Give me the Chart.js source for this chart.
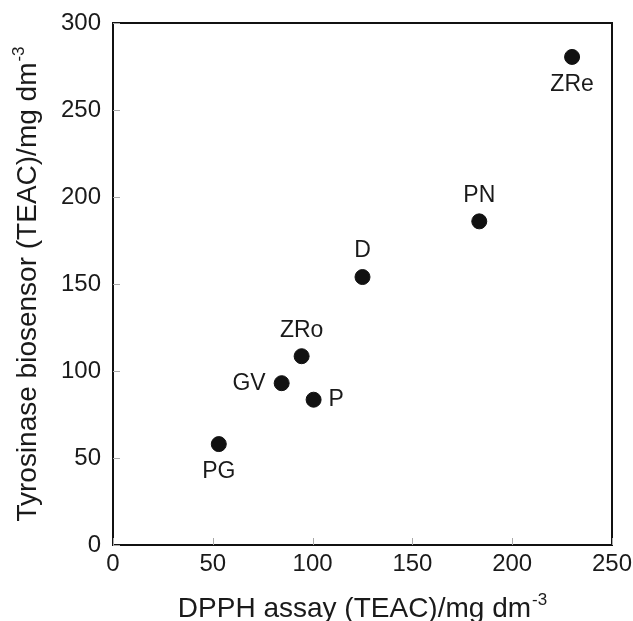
<!DOCTYPE html>
<html>
<head>
<meta charset="utf-8">
<script src="https://cdn.jsdelivr.net/npm/chart.js@4.4.0/dist/chart.umd.min.js"></script>
<style>
html,body{margin:0;padding:0;background:#fff;}
#wrap{width:633px;height:621px;position:relative;}
</style>
</head>
<body>
<div id="wrap"><canvas id="c" width="633" height="621"></canvas></div>
<script>
// ---- data ----
const sampleNames = ['ZRe','PN','D','ZRo','GV','P','PG'];
const dpphValues = [230, 183.5, 125, 94.5, 84.5, 100.5, 53];
const biosensorValues = [280.5, 186, 154, 108.5, 93, 83.5, 58];
const xTickValues = [0, 50, 100, 150, 200, 250];
const yTickValues = [0, 50, 100, 150, 200, 250, 300];
const xTitleMain = 'DPPH assay (TEAC)/mg dm';
const yTitleMain = 'Tyrosinase biosensor (TEAC)/mg dm';
const titleSup = '-3';
// label placement (style only)
const labelSide = ['below','above','above','above','left','right','below'];

const FONT = '"Liberation Sans", Arial, sans-serif';
const TICK_SIZE = 24;
const LABEL_SIZE = 23;
const TITLE_SIZE = 28;

const points = dpphValues.map((x, i) => ({x: x, y: biosensorValues[i]}));

const decorPlugin = {
  id: 'decor',
  afterDraw(chart) {
    const ctx = chart.ctx;
    const a = chart.chartArea;
    const xs = chart.scales.x, ys = chart.scales.y;
    ctx.save();
    // frame
    ctx.strokeStyle = '#111';
    ctx.lineWidth = 2;
    ctx.strokeRect(a.left, a.top, a.right - a.left, a.bottom - a.top);
    // inward ticks
    ctx.strokeStyle = '#aaa';
    ctx.lineWidth = 1;
    ctx.beginPath();
    xTickValues.forEach(v => {
      const px = Math.round(xs.getPixelForValue(v)) + 0.5;
      ctx.moveTo(px, a.bottom); ctx.lineTo(px, a.bottom - 7);
    });
    yTickValues.forEach(v => {
      const py = Math.round(ys.getPixelForValue(v)) + 0.5;
      ctx.moveTo(a.left, py); ctx.lineTo(a.left + 7, py);
    });
    ctx.stroke();
    // point labels
    ctx.fillStyle = '#1a1a1a';
    ctx.font = LABEL_SIZE + 'px ' + FONT;
    const meta = chart.getDatasetMeta(0);
    meta.data.forEach((el, i) => {
      const side = labelSide[i];
      let tx = el.x, ty = el.y;
      ctx.textBaseline = 'middle';
      if (side === 'below') { ctx.textAlign = 'center'; ty += 28; }
      else if (side === 'above') { ctx.textAlign = 'center'; ty -= 26; }
      else if (side === 'left') { ctx.textAlign = 'right'; tx -= 16; }
      else { ctx.textAlign = 'left'; tx += 15; }
      ctx.fillText(sampleNames[i], tx, ty);
    });
    // axis titles with superscript
    function drawTitle(main, cx, baseline, rot) {
      ctx.save();
      ctx.translate(cx, baseline);
      ctx.rotate(rot);
      ctx.font = TITLE_SIZE + 'px ' + FONT;
      const w1 = ctx.measureText(main).width;
      const supSize = Math.round(TITLE_SIZE * 0.6);
      ctx.font = supSize + 'px ' + FONT;
      const w2 = ctx.measureText(titleSup).width;
      const start = -(w1 + w2 + 1) / 2;
      ctx.textAlign = 'left';
      ctx.textBaseline = 'alphabetic';
      ctx.font = TITLE_SIZE + 'px ' + FONT;
      ctx.fillText(main, start, 0);
      ctx.font = supSize + 'px ' + FONT;
      ctx.fillText(titleSup, start + w1 + 1, -TITLE_SIZE * 0.42);
      ctx.restore();
    }
    ctx.fillStyle = '#1a1a1a';
    drawTitle(xTitleMain, (a.left + a.right) / 2, 617, 0);
    ctx.save();
    ctx.translate(36, (a.top + a.bottom) / 2);
    ctx.restore();
    drawTitle(yTitleMain, 36, (a.top + a.bottom) / 2, -Math.PI / 2);
    ctx.restore();
  }
};

new Chart(document.getElementById('c'), {
  type: 'scatter',
  data: {
    datasets: [{
      data: points,
      backgroundColor: '#111',
      borderColor: '#111',
      pointRadius: 7.5,
      pointHoverRadius: 7.5
    }]
  },
  options: {
    responsive: false,
    animation: false,
    events: [],
    layout: { padding: { top: 23, right: 21, left: 0, bottom: 0 } },
    plugins: { legend: { display: false }, tooltip: { enabled: false } },
    scales: {
      x: {
        type: 'linear', min: 0, max: 250,
        afterFit(s) { s.height = 76; s.paddingRight = 0; s.paddingLeft = 0; },
        afterBuildTicks(s) { s.ticks = xTickValues.map(v => ({value: v})); },
        grid: { display: false, drawTicks: false },
        border: { display: false },
        ticks: { color: '#1a1a1a', font: { family: FONT, size: TICK_SIZE }, padding: 5, maxRotation: 0 }
      },
      y: {
        type: 'linear', min: 0, max: 300,
        afterFit(s) { s.width = 113; s.paddingTop = 0; s.paddingBottom = 0; },
        afterBuildTicks(s) { s.ticks = yTickValues.map(v => ({value: v})); },
        grid: { display: false, drawTicks: false },
        border: { display: false },
        ticks: { color: '#1a1a1a', font: { family: FONT, size: TICK_SIZE }, padding: 12 }
      }
    }
  },
  plugins: [decorPlugin]
});
</script>
</body>
</html>
